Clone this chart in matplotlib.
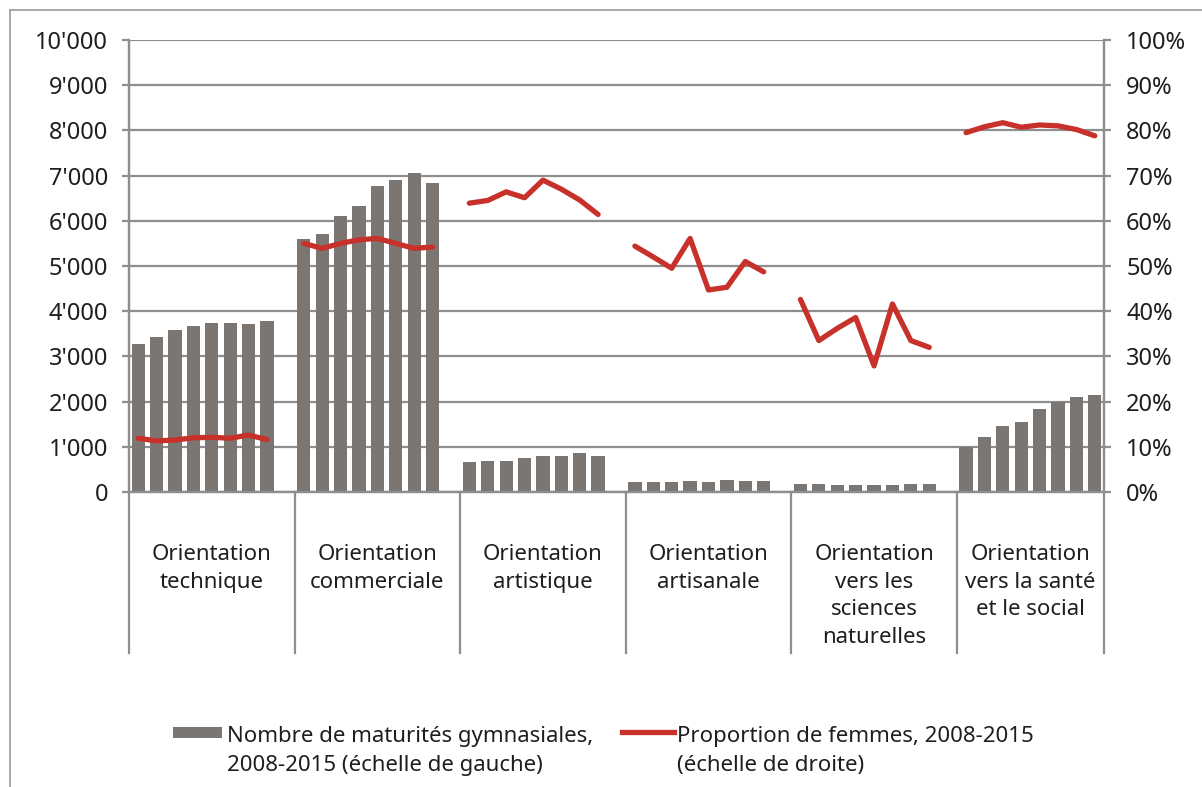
import numpy as np
import matplotlib.pyplot as plt
import matplotlib.transforms as mtransforms
from matplotlib.patches import Rectangle
from matplotlib.lines import Line2D
from matplotlib.ticker import FuncFormatter

plt.rcParams['font.family'] = ['Noto Sans', 'DejaVu Sans']

# Data, 2008-2015 for each orientation
categories = ["Orientation\ntechnique", "Orientation\ncommerciale", "Orientation\nartistique",
              "Orientation\nartisanale", "Orientation\nvers les\nsciences\nnaturelles",
              "Orientation\nvers la santé\net le social"]
years = [2008, 2009, 2010, 2011, 2012, 2013, 2014, 2015]

n_technique = [3270, 3420, 3580, 3670, 3730, 3730, 3720, 3780]
n_commerciale = [5590, 5710, 6110, 6330, 6770, 6900, 7050, 6830]
n_artistique = [670, 690, 690, 760, 800, 800, 860, 800]
n_artisanale = [225, 230, 215, 250, 215, 260, 240, 240]
n_sciences = [175, 180, 150, 165, 165, 150, 180, 170]
n_sante = [990, 1220, 1460, 1540, 1830, 1990, 2100, 2140]

f_technique = [11.9, 11.3, 11.5, 12.0, 12.1, 11.9, 12.6, 11.6]
f_commerciale = [55.0, 53.9, 55.0, 55.8, 56.1, 55.0, 53.9, 54.2]
f_artistique = [63.9, 64.5, 66.4, 65.1, 69.0, 67.0, 64.6, 61.4]
f_artisanale = [54.4, 52.0, 49.5, 56.1, 44.7, 45.3, 51.0, 48.7]
f_sciences = [42.6, 33.5, 36.2, 38.6, 27.9, 41.6, 33.5, 32.0]
f_sante = [79.5, 80.8, 81.7, 80.7, 81.2, 81.0, 80.2, 78.8]

legend_labels = ["Nombre de maturités gymnasiales,\n2008-2015 (échelle de gauche)",
                 "Proportion de femmes, 2008-2015\n(échelle de droite)"]

counts = [n_technique, n_commerciale, n_artistique, n_artisanale, n_sciences, n_sante]
shares = [f_technique, f_commerciale, f_artistique, f_artisanale, f_sciences, f_sante]

bar_col = '#7b7672'
red = '#c8302a'
grid_col = '#8e8e8e'
txt_col = '#1e1e1e'

W, H = 1202, 787
fig = plt.figure(figsize=(W/100, H/100), dpi=100)
ax = fig.add_axes([129/W, 1-492/H, (1104-129)/W, 452/H])
ax2 = ax.twinx()

# one empty slot between groups
slot = len(years) + 1
for g in range(len(categories)):
    x = np.arange(len(years)) + g*slot
    ax.bar(x, counts[g], width=0.72, color=bar_col, zorder=3)
    ax2.plot(x, shares[g], color=red, lw=3.8, solid_joinstyle='round', solid_capstyle='round')

nslots = slot*len(categories) - 1
ax.set_xlim(-0.5, nslots - 0.5)
ax.set_xticks([])
ax.set_ylim(0, 10000)
ax.set_yticks(np.arange(0, 10001, 1000))
ax.yaxis.set_major_formatter(FuncFormatter(lambda v, p: f"{int(v):,}".replace(',', "'")))
ax.grid(axis='y', color=grid_col, lw=1.6)
ax.set_axisbelow(True)

ax2.set_ylim(0, 100)
ax2.set_yticks(np.arange(0, 101, 10))
ax2.yaxis.set_major_formatter(FuncFormatter(lambda v, p: f"{int(v)}%"))

for a in (ax, ax2):
    a.spines['top'].set_visible(False)
    for s in ('left', 'right', 'bottom'):
        a.spines[s].set_color(grid_col)
        a.spines[s].set_linewidth(1.6)
    a.tick_params(axis='y', length=5, width=1.6, color=grid_col, labelsize=17, labelcolor=txt_col)
ax.tick_params(axis='y', pad=10)
ax2.tick_params(axis='y', pad=11)

# category separators and labels
trans = mtransforms.blended_transform_factory(ax.transData, ax.transAxes)
bounds = [g*slot - 0.5 for g in range(len(categories))] + [nslots - 0.5]
for b in bounds:
    ax.plot([b, b], [0, -0.356], transform=trans, clip_on=False, color=grid_col, lw=1.6)
for g, lab in enumerate(categories):
    cx = (bounds[g] + bounds[g+1]) / 2
    ax.text(cx, (492-544)/452, lab, transform=trans, ha='center', va='top', fontsize=16,
            linespacing=1.42, color=txt_col)

# outer frame
fig.add_artist(Line2D([10/W, 1], [1-10/H, 1-10/H], transform=fig.transFigure, color='#9a9a9a', lw=1.2))
fig.add_artist(Line2D([10/W, 10/W], [0, 1-10/H], transform=fig.transFigure, color='#9a9a9a', lw=1.2))

# legend (keys aligned with the first text line)
fig.add_artist(Rectangle((173/W, 1-738/H), 49/W, 11/H, transform=fig.transFigure,
                         facecolor=bar_col, edgecolor='none'))
fig.add_artist(Line2D([622/W, 674/W], [1-732/H, 1-732/H], transform=fig.transFigure,
                      color=red, lw=3.8))
fig.text(227/W, 1-726/H, legend_labels[0], ha='left', va='top', fontsize=16,
         linespacing=1.5, color=txt_col)
fig.text(677/W, 1-726/H, legend_labels[1], ha='left', va='top', fontsize=16,
         linespacing=1.5, color=txt_col)

fig.savefig('out.png', dpi=100)
